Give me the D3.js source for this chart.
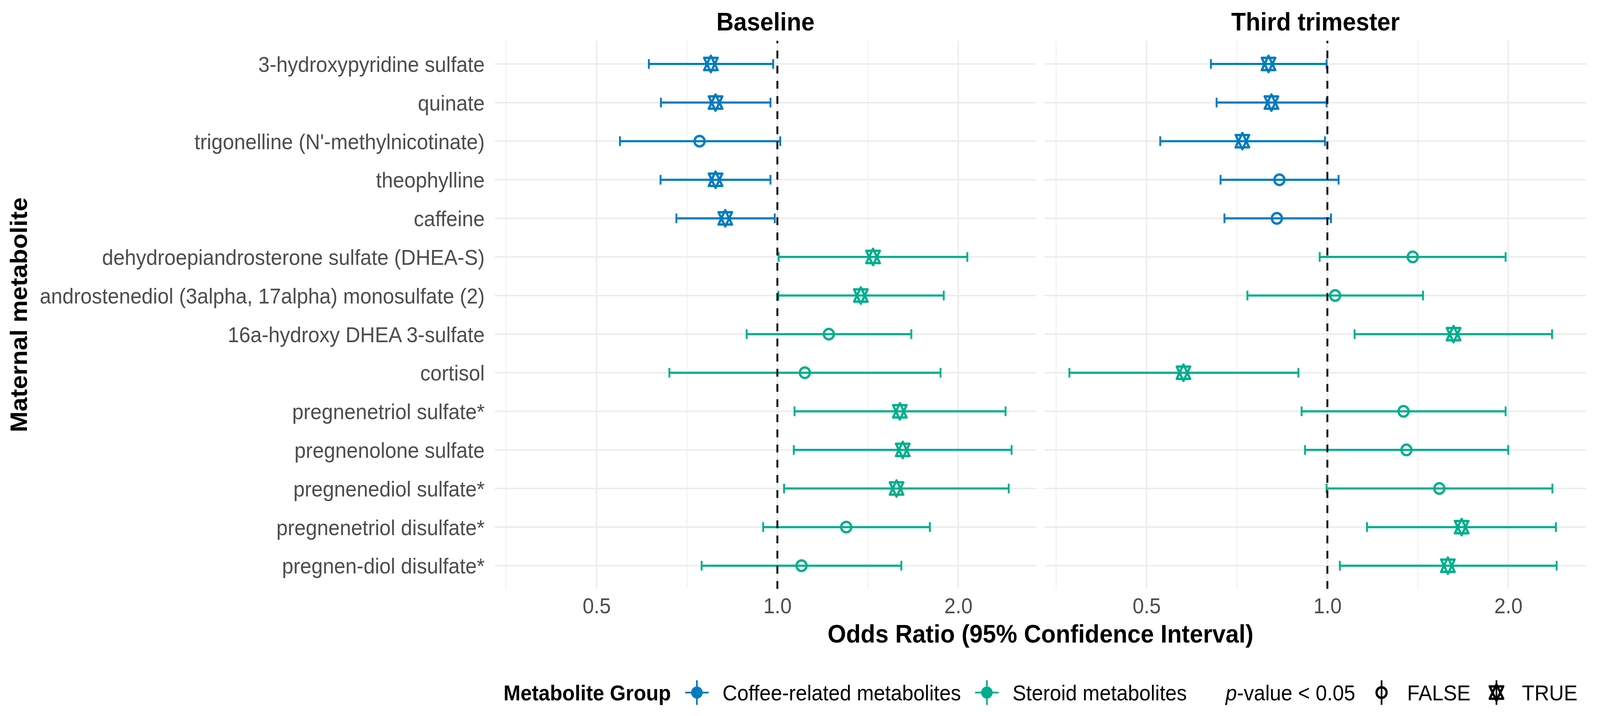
<!DOCTYPE html>
<html>
<head>
<meta charset="utf-8">
<script src="https://cdn.jsdelivr.net/npm/d3@7"></script>
<style>
  html, body { margin: 0; padding: 0; width: 100%; height: 100%; overflow: hidden; background: #fff; }
  svg { display: block; width: 100vw; height: 100vh; font-family: "Liberation Sans", Arial, Helvetica, sans-serif; }
</style>
</head>
<body>
<svg id="chart"></svg>
<script>
// Metabolites, top to bottom
const metabolites = [
  '3-hydroxypyridine sulfate',
  'quinate',
  "trigonelline (N'-methylnicotinate)",
  'theophylline',
  'caffeine',
  'dehydroepiandrosterone sulfate (DHEA-S)',
  'androstenediol (3alpha, 17alpha) monosulfate (2)',
  '16a-hydroxy DHEA 3-sulfate',
  'cortisol',
  'pregnenetriol sulfate*',
  'pregnenolone sulfate',
  'pregnenediol sulfate*',
  'pregnenetriol disulfate*',
  'pregnen-diol disulfate*'
]
const groups = ['Coffee-related metabolites', 'Coffee-related metabolites', 'Coffee-related metabolites',
  'Coffee-related metabolites', 'Coffee-related metabolites',
  'Steroid metabolites', 'Steroid metabolites', 'Steroid metabolites', 'Steroid metabolites',
  'Steroid metabolites', 'Steroid metabolites', 'Steroid metabolites', 'Steroid metabolites',
  'Steroid metabolites']

const panels = ['Baseline', 'Third trimester']

// Baseline estimates
const baselineOR  = [0.775, 0.789, 0.742, 0.789, 0.819, 1.443, 1.377, 1.218, 1.111, 1.599, 1.617, 1.579, 1.302, 1.097]
const baselineLow = [0.611, 0.640, 0.547, 0.639, 0.679, 1.005, 1.004, 0.889, 0.661, 1.068, 1.065, 1.026, 0.947, 0.748]
const baselineHigh = [0.984, 0.974, 1.011, 0.974, 0.990, 2.071, 1.892, 1.671, 1.869, 2.398, 2.454, 2.427, 1.794, 1.608]
const baselineSig = [true, true, false, true, true, true, true, false, false, true, true, true, false, false]

// Third trimester estimates
const thirdOR  = [0.798, 0.807, 0.722, 0.832, 0.824, 1.387, 1.030, 1.622, 0.576, 1.339, 1.354, 1.536, 1.673, 1.587]
const thirdLow = [0.640, 0.654, 0.527, 0.664, 0.674, 0.971, 0.736, 1.110, 0.372, 0.906, 0.918, 0.997, 1.164, 1.049]
const thirdHigh = [0.997, 0.997, 0.991, 1.044, 1.014, 1.980, 1.443, 2.366, 0.895, 1.980, 2.000, 2.369, 2.401, 2.408]
const thirdSig = [true, true, true, false, false, false, false, true, true, false, false, false, true, true]

const xTicks = [0.5, 1, 2]
const groupNames = ['Coffee-related metabolites', 'Steroid metabolites']
const sigLabels = ['FALSE', 'TRUE']

const colors = { 'Coffee-related metabolites': '#007BBF', 'Steroid metabolites': '#00AE8D' }

const width = 4288
const height = 1833
const panelLeft = 1326
const panelTop = 104.5
const panelBottom = 1507.5
const panelSpacing = 23
const panelW = (4251 - panelLeft - panelSpacing) / 2
const textSize = 54.6
const titleSize = 64

// the viewBox is stretched over the whole window so nothing is cut off
const svg = d3.select('#chart')
  .attr('viewBox', `0 0 ${width} ${height}`)
  .attr('preserveAspectRatio', 'none')

svg.append('rect').attr('width', width).attr('height', height).attr('fill', '#fff')

const rows = metabolites.map((m, i) => ({
  name: m,
  group: groups[i],
  panels: [
    { or: baselineOR[i], lo: baselineLow[i], hi: baselineHigh[i], sig: baselineSig[i] },
    { or: thirdOR[i], lo: thirdLow[i], hi: thirdHigh[i], sig: thirdSig[i] }
  ]
}))

// shared log2 x domain with 5% expansion like ggplot
const allLow = d3.min(baselineLow.concat(thirdLow))
const allHigh = d3.max(baselineHigh.concat(thirdHigh))
const lMin = Math.log2(allLow), lMax = Math.log2(allHigh)
const ex = (lMax - lMin) * 0.05
const x = d3.scaleLog().base(2)
  .domain([Math.pow(2, lMin - ex), Math.pow(2, lMax + ex)])
  .range([0, panelW])

const y = d3.scalePoint()
  .domain(metabolites)
  .range([panelTop, panelBottom])
  .padding(0.6)

const minorTicks = [Math.pow(2, -1.5), Math.pow(2, -0.5), Math.pow(2, 0.5), Math.pow(2, 1.5)]
  .filter(v => v >= x.domain()[0] && v <= x.domain()[1])

// star shape (triangle up + triangle down, like R pch 11)
function starPath(r) {
  const xc = 0.866 * r, yc = 0.75 * r
  return `M0,${-r}L${xc},${yc}L${-xc},${yc}Z M0,${r}L${xc},${-yc}L${-xc},${-yc}Z`
}
const circleR = 13.5
const starR = 21

function drawShape(sel, sig, color, cx, cy) {
  if (sig) {
    sel.append('path')
      .attr('d', starPath(starR))
      .attr('transform', `translate(${cx},${cy})`)
      .attr('fill', 'none')
      .attr('stroke', color)
      .attr('stroke-width', 6)
      .attr('stroke-linejoin', 'round')
  } else {
    sel.append('circle')
      .attr('cx', cx).attr('cy', cy).attr('r', circleR)
      .attr('fill', 'none')
      .attr('stroke', color)
      .attr('stroke-width', 6)
  }
}

panels.forEach((title, p) => {
  const left = panelLeft + p * (panelW + panelSpacing)
  const g = svg.append('g').attr('transform', `translate(${left},0)`)

  // grid
  g.selectAll('.minor').data(minorTicks).enter().append('line')
    .attr('x1', d => x(d)).attr('x2', d => x(d))
    .attr('y1', panelTop).attr('y2', panelBottom)
    .attr('stroke', '#EBEBEB').attr('stroke-width', 1.8)
  g.selectAll('.major').data(xTicks).enter().append('line')
    .attr('x1', d => x(d)).attr('x2', d => x(d))
    .attr('y1', panelTop).attr('y2', panelBottom)
    .attr('stroke', '#EBEBEB').attr('stroke-width', 3.6)
  g.selectAll('.hgrid').data(metabolites).enter().append('line')
    .attr('x1', 0).attr('x2', panelW)
    .attr('y1', d => y(d)).attr('y2', d => y(d))
    .attr('stroke', '#EBEBEB').attr('stroke-width', 3.6)

  // x axis
  const xAxis = g.append('g')
    .attr('transform', `translate(0,${panelBottom})`)
    .call(d3.axisBottom(x).tickValues(xTicks).tickFormat(d3.format('.1f')).tickSize(0).tickPadding(24))
  xAxis.select('.domain').remove()
  xAxis.selectAll('text')
    .attr('font-size', textSize)
    .attr('fill', '#4D4D4D')
    .attr('font-family', '"Liberation Sans", Arial, Helvetica, sans-serif')

  // facet title
  g.append('text')
    .attr('x', panelW / 2).attr('y', 78)
    .attr('text-anchor', 'middle')
    .attr('font-size', titleSize)
    .attr('font-weight', 'bold')
    .text(title)

  // error bars
  rows.forEach(r => {
    const d = r.panels[p]
    const cy = y(r.name)
    const col = colors[r.group]
    g.append('line')
      .attr('x1', x(d.lo)).attr('x2', x(d.hi))
      .attr('y1', cy).attr('y2', cy)
      .attr('stroke', col).attr('stroke-width', 5.5)
    ;[d.lo, d.hi].forEach(v => {
      g.append('line')
        .attr('x1', x(v)).attr('x2', x(v))
        .attr('y1', cy - y.step() * 0.125).attr('y2', cy + y.step() * 0.125)
        .attr('stroke', col).attr('stroke-width', 5)
    })
  })

  // points
  rows.forEach(r => {
    const d = r.panels[p]
    drawShape(g, d.sig, colors[r.group], x(d.or), y(r.name))
  })

  // reference line at OR = 1
  g.append('line')
    .attr('x1', x(1)).attr('x2', x(1))
    .attr('y1', panelBottom).attr('y2', panelTop)
    .attr('stroke', '#000').attr('stroke-width', 5)
    .attr('stroke-dasharray', '20,18.8')
})

// y axis labels
const yAxis = svg.append('g')
  .attr('transform', `translate(${panelLeft},0)`)
  .call(d3.axisLeft(y).tickSize(0).tickPadding(27))
yAxis.select('.domain').remove()
yAxis.selectAll('text')
  .attr('font-size', textSize)
  .attr('fill', '#4D4D4D')
  .attr('dy', '0.36em')
  .attr('font-family', '"Liberation Sans", Arial, Helvetica, sans-serif')

// axis titles
const plotCenter = panelLeft + panelW + panelSpacing / 2
svg.append('text')
  .attr('x', plotCenter).attr('y', 1645)
  .attr('text-anchor', 'middle')
  .attr('font-size', titleSize).attr('font-weight', 'bold')
  .text('Odds Ratio (95% Confidence Interval)')

svg.append('text')
  .attr('transform', `translate(72,${(panelTop + panelBottom) / 2}) rotate(-90)`)
  .attr('text-anchor', 'middle')
  .attr('font-size', titleSize).attr('font-weight', 'bold')
  .text('Maternal metabolite')

// legend
const legend = svg.append('g')
const ly = 1773
const textY = ly + 20
let lx = 0

function addText(str, bold) {
  const t = legend.append('text')
    .attr('x', lx).attr('y', textY)
    .attr('font-size', textSize)
    .attr('font-weight', bold ? 'bold' : 'normal')
    .text(str)
  return t.node().getComputedTextLength()
}

lx += addText('Metabolite Group', true) + 38
groupNames.forEach((gName, i) => {
  const cx = lx + 31.5
  legend.append('line').attr('x1', cx - 31.5).attr('x2', cx + 31.5).attr('y1', ly).attr('y2', ly)
    .attr('stroke', colors[gName]).attr('stroke-width', 4.5)
  legend.append('line').attr('x1', cx).attr('x2', cx).attr('y1', ly - 31.5).attr('y2', ly + 31.5)
    .attr('stroke', colors[gName]).attr('stroke-width', 4.5)
  legend.append('circle').attr('cx', cx).attr('cy', ly).attr('r', 15.5).attr('fill', colors[gName])
  lx += 63 + 37
  lx += addText(gName, false) + (i === groupNames.length - 1 ? 104 : 38)
})

const pTitle = legend.append('text')
  .attr('x', lx).attr('y', textY)
  .attr('font-size', textSize)
pTitle.append('tspan').attr('font-style', 'italic').text('p')
pTitle.append('tspan').text('-value < 0.05')
lx += pTitle.node().getComputedTextLength() + 39

sigLabels.forEach((lab, i) => {
  const cx = lx + 31.5
  legend.append('line').attr('x1', cx).attr('x2', cx).attr('y1', ly - 31.5).attr('y2', ly + 31.5)
    .attr('stroke', '#000').attr('stroke-width', 4.5)
  drawShape(legend, lab === 'TRUE', '#000', cx, ly)
  lx += 63 + 37
  lx += addText(lab, false) + (i === sigLabels.length - 1 ? 0 : 38)
})

legend.attr('transform', `translate(${plotCenter - lx / 2},0)`)
</script>
</body>
</html>
